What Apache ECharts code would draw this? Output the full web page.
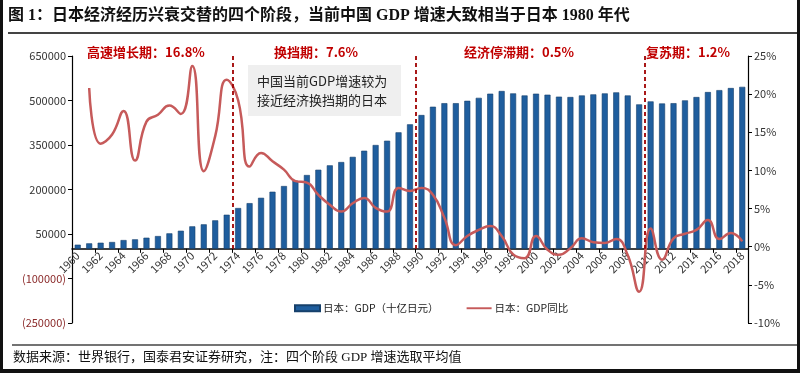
<!DOCTYPE html>
<html>
<head>
<meta charset="utf-8">
<script src="https://cdn.jsdelivr.net/npm/echarts@6/dist/echarts.min.js"></script>
<style>
html,body{margin:0;padding:0;background:#fff;}
#chart{width:800px;height:373px;}
</style>
</head>
<body>
<div id="chart"></div>
<script>
// ---- data ----
var years = ['1960','1961','1962','1963','1964','1965','1966','1967','1968','1969',
  '1970','1971','1972','1973','1974','1975','1976','1977','1978','1979',
  '1980','1981','1982','1983','1984','1985','1986','1987','1988','1989',
  '1990','1991','1992','1993','1994','1995','1996','1997','1998','1999',
  '2000','2001','2002','2003','2004','2005','2006','2007','2008','2009',
  '2010','2011','2012','2013','2014','2015','2016','2017','2018'];
// Japan nominal GDP, billion yen
var gdp = [14000,18500,20600,23000,29600,32000,37500,43100,52200,61000,
  75800,82600,96000,115000,137500,154000,172000,192500,211700,229600,
  248800,266600,281400,292600,310000,330700,350000,364400,392700,419700,
  451000,479000,491000,491000,499000,509000,523000,532000,524000,517000,
  523000,519600,513000,511800,517000,520700,524000,527500,517000,487000,
  497000,490000,491000,500500,511700,528500,535000,542000,546000];
// Japan GDP growth yoy, %
var growth = [null,20.8,13.5,14.7,17.8,11.3,16.4,17.3,18.5,17.4,
  23.7,9.9,14.5,21.9,19.2,10.5,12.3,11.2,10.1,8.6,
  8.4,6.8,5.5,4.6,5.7,6.4,5.1,4.6,7.7,7.3,
  7.7,6.8,3.8,0.2,1.4,2.2,2.7,1.4,-1.0,-1.5,
  1.4,-0.4,-1.05,-0.2,1.1,0.6,0.5,1.0,-1.1,-5.9,
  2.4,-1.7,1.1,1.7,2.2,3.5,1.0,1.8,0.7];
var leftTicks = [-250000,-100000,50000,200000,350000,500000,650000];
var phaseStartYears = ['1974','1990','2010'];
var phaseLabels = ['高速增长期：16.8%','换挡期：7.6%','经济停滞期：0.5%','复苏期：1.2%'];
var seriesNames = ['日本：GDP（十亿日元）','日本：GDP同比'];
var titleText = '图 1：日本经济经历兴衰交替的四个阶段，当前中国 GDP 增速大致相当于日本 1980 年代';
var footText = '数据来源：世界银行，国泰君安证券研究，注：四个阶段 GDP 增速选取平均值';
var noteLines = ['中国当前GDP增速较为','接近经济换挡期的日本'];

// ---- layout ----
var gridTop = 56, gridBottom = 50, H = 373;
var plotH = H - gridTop - gridBottom;
var yMin = leftTicks[0], yMax = leftTicks[leftTicks.length-1];
// shift the category axis from the bottom of the grid up to the zero line
var zeroOffset = -plotH * (0 - yMin) / (yMax - yMin);

var chart = echarts.init(document.getElementById('chart'), null, {renderer:'canvas'});
var boundaryLines = phaseStartYears.map(function(y){
  var i = years.indexOf(y);
  return [{coord:[i, yMax]},{coord:[i, 0]}];
});
var phaseX = [146, 316, 519, 688];
var graphics = [
  {type:'text', left:8, top:8, style:{text:titleText, fontSize:16, fontWeight:'bold', fill:'#111',
    fontFamily:'"Liberation Serif","Noto Sans CJK SC",serif'}},
  {type:'line', shape:{x1:8,y1:33,x2:800,y2:33}, style:{stroke:'#444', lineWidth:2}},
  {type:'line', shape:{x1:12,y1:345,x2:800,y2:345}, style:{stroke:'#444', lineWidth:1.5}},
  {type:'text', left:13, top:351, style:{text:footText, fontSize:13, fill:'#111',
    fontFamily:'"Liberation Serif","Noto Sans CJK SC",serif'}},
  {type:'rect', shape:{x:248,y:65,width:153,height:51}, style:{fill:'#efefef'}},
  {type:'text', x:257, y:72, style:{text:noteLines.join('\n'), fontSize:13, lineHeight:19, fill:'#222',
    fontFamily:'"Noto Sans CJK SC",sans-serif'}},
  {type:'rect', shape:{x:0,y:0,width:3,height:373}, style:{fill:'#111'}},
  {type:'rect', shape:{x:797,y:0,width:3,height:373}, style:{fill:'#111'}},
  {type:'rect', shape:{x:0,y:369,width:800,height:4}, style:{fill:'#111'}}
];
phaseLabels.forEach(function(t, k){
  graphics.push({type:'text', x:phaseX[k], y:52, style:{text:t, fontSize:13, fontWeight:'bold', fill:'#c00000',
    align:'center', verticalAlign:'middle', fontFamily:'"Noto Sans CJK SC",sans-serif'}});
});

var option = {
  animation:false,
  textStyle:{fontFamily:'"Noto Sans CJK SC","Liberation Sans",sans-serif'},
  grid:{left:72, right:52, top:gridTop, bottom:gridBottom},
  legend:{
    data:[
      {name:seriesNames[0], icon:'rect'},
      {name:seriesNames[1], icon:'path://M0,0L26,0L26,2L0,2Z'}
    ],
    left:289, top:298, itemGap:28, itemWidth:25, itemHeight:6,
    textStyle:{fontSize:10.5, color:'#222', padding:[0,0,0,-2]}
  },
  xAxis:[{
    type:'category', data:years, boundaryGap:true, position:'bottom', offset:zeroOffset,
    axisLine:{onZero:false, lineStyle:{color:'#000', width:1.5}},
    axisTick:{show:true, interval:1, length:4, lineStyle:{color:'#000'}},
    axisLabel:{interval:1, rotate:45, fontSize:11, color:'#333', margin:5},
    splitLine:{show:false}
  },{
    type:'value', min:0, max:years.length, show:false, position:'top',
    axisLine:{onZero:false}
  }],
  yAxis:[{
    type:'value', min:yMin, max:yMax, position:'left',
    axisLine:{show:true, onZero:false, lineStyle:{color:'#000', width:1.2}},
    axisTick:{show:true, length:4, customValues:leftTicks, lineStyle:{color:'#000'}},
    axisLabel:{customValues:leftTicks, fontSize:11, margin:6,
      formatter:function(v){ return v < 0 ? '(' + (-v) + ')' : String(v); },
      color:function(v){ return Number(v) < 0 ? '#8b2a2a' : '#333'; }},
    splitLine:{show:false}
  },{
    type:'value', min:-10, max:25, interval:5, position:'right',
    axisLine:{show:true, onZero:false, lineStyle:{color:'#000', width:1.2}},
    axisTick:{show:true, length:4, lineStyle:{color:'#000'}},
    axisLabel:{formatter:'{value}%', fontSize:11, color:'#333', margin:6},
    splitLine:{show:false}
  }],
  series:[{
    name:seriesNames[0], type:'bar', data:gdp, barWidth:6,
    itemStyle:{color:'#1f5e9e', borderColor:'#16406b', borderWidth:0.6}
  },{
    name:seriesNames[1], type:'line', yAxisIndex:1, data:growth, smooth:0.5,
    symbol:'none', connectNulls:true,
    lineStyle:{color:'#c65a5a', width:2.5}, itemStyle:{color:'#c65a5a'}, z:3
  },{
    type:'line', xAxisIndex:1, yAxisIndex:0, data:[], silent:true,
    markLine:{silent:true, symbol:['none','none'], label:{show:false},
      lineStyle:{color:'#a00000', type:[4,3], width:1.8}, data:boundaryLines}
  }],
  graphic:graphics
};
chart.setOption(option);
</script>
</body>
</html>
